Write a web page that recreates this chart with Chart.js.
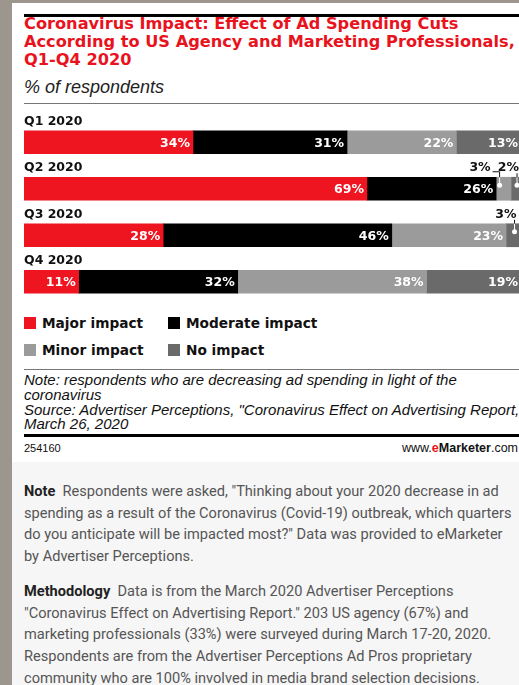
<!DOCTYPE html>
<html>
<head>
<meta charset="utf-8">
<script src="https://cdn.jsdelivr.net/npm/chart.js@4"></script>
<style>
  html, body { margin: 0; padding: 0; }
  body { width: 519px; height: 685px; overflow: hidden; position: relative; background: #fff; font-family: "Liberation Sans", Arial, sans-serif; }
  .abs { position: absolute; white-space: nowrap; }
  #strip-left { left: 0; top: 0; width: 12px; height: 685px; background: #9c968f; }
  #strip-top { left: 0; top: 0; width: 519px; height: 3px; background: #9c968f; }
  #lower { left: 12px; top: 462px; width: 507px; height: 223px; background: #f6f6f6; }
  .rule { position: absolute; left: 24px; width: 495px; }
  #title { left: 24px; top: 15px; font: 700 16.2px/18px "DejaVu Sans", sans-serif; color: #e8131d; }
  #subtitle { left: 24px; top: 77px; font: italic 18px/20px "Liberation Sans", sans-serif; color: #222; }
  #chartBox { left: 24px; top: 105px; width: 497px; height: 200px; }
  .legend-row { left: 24px; font: 700 13.7px/18px "DejaVu Sans", sans-serif; color: #111; }
  .legend-item { position: absolute; top: 0; }
  .legend-item i { position: absolute; left: 0; top: 3px; width: 12px; height: 12px; }
  .legend-item span { position: absolute; left: 18px; top: 0; }
  #note { left: 24px; top: 373px; font: italic 15px/14.8px "Liberation Sans", sans-serif; color: #111; }
  #code { left: 24px; top: 442px; font: 11px/13px "Liberation Sans", sans-serif; color: #111; }
  #site { right: 1px; top: 441px; font: 12.5px/14px "Liberation Sans", sans-serif; color: #111; }
  #site b { font-weight: 700; }
  .para { left: 24px; font: 14.6px/21.7px Roboto, sans-serif; color: #555; }
  .para b { color: #222; }
</style>
</head>
<body>
<div class="abs" id="strip-left"></div>
<div class="abs" id="strip-top"></div>
<div class="abs" id="lower"></div>

<div class="rule" style="top:14px;height:3px;background:#000"></div>
<div class="abs" id="title">Coronavirus Impact: Effect of Ad Spending Cuts<br>According to US Agency and Marketing Professionals,<br>Q1-Q4 2020</div>
<div class="abs" id="subtitle">% of respondents</div>
<div class="rule" style="top:103px;height:1px;background:#777"></div>

<div class="abs" id="chartBox"><canvas id="impactChart" width="497" height="200"></canvas></div>

<div class="abs legend-row" id="legendRow1" style="top:314px"></div>
<div class="abs legend-row" id="legendRow2" style="top:341px"></div>
<div class="rule" style="top:369px;height:1px;background:#777"></div>

<div class="abs" id="note">Note: respondents who are decreasing ad spending in light of the<br>coronavirus<br>Source: Advertiser Perceptions, "Coronavirus Effect on Advertising Report,"<br>March 26, 2020</div>
<div class="rule" style="top:434px;height:3px;background:#000"></div>
<div class="abs" id="code">254160</div>
<div class="abs" id="site">www.<b style="color:#e8131d">e</b><b>Marketer</b>.com</div>

<div class="abs para" style="top:481px"><b>Note</b>&nbsp; Respondents were asked, "Thinking about your 2020 decrease in ad<br>spending as a result of the Coronavirus (Covid-19) outbreak, which quarters<br>do you anticipate will be impacted most?" Data was provided to eMarketer<br>by Advertiser Perceptions.</div>
<div class="abs para" style="top:581px"><b>Methodology</b>&nbsp; Data is from the March 2020 Advertiser Perceptions<br>"Coronavirus Effect on Advertising Report." 203 US agency (67%) and<br>marketing professionals (33%) were surveyed during March 17-20, 2020.<br>Respondents are from the Advertiser Perceptions Ad Pros proprietary<br>community who are 100% involved in media brand selection decisions.</div>

<script>
// ================= DATA =================
const quarters = ["Q1 2020", "Q2 2020", "Q3 2020", "Q4 2020"];
const seriesNames = ["Major impact", "Moderate impact", "Minor impact", "No impact"];
const majorImpact = [34, 69, 28, 11];
const moderateImpact = [31, 26, 46, 32];
const minorImpact = [22, 3, 23, 38];
const noImpact = [13, 2, 3, 19];
const seriesColors = ["#ee1520", "#000000", "#9b9b9b", "#6a6a6a"];

const seriesValues = [majorImpact, moderateImpact, minorImpact, noImpact];

// ================= LEGEND =================
const legendSlots = [[0, 0], [0, 144], [1, 0], [1, 144]];
seriesNames.forEach((name, k) => {
  const [row, left] = legendSlots[k];
  const item = document.createElement("div");
  item.className = "legend-item";
  item.style.left = left + "px";
  item.innerHTML = `<i style="background:${seriesColors[k]}"></i><span>${name}</span>`;
  document.getElementById(row === 0 ? "legendRow1" : "legendRow2").appendChild(item);
});

// ================= LABELS =================
const boldFont = "700 12.5px 'DejaVu Sans'";
const valueFont = "700 12.5px 'DejaVu Sans'";

const labelPlugin = {
  id: "barLabels",
  afterDatasetsDraw(chart) {
    const ctx = chart.ctx;
    const left = chart.chartArea.left;
    ctx.save();

    // quarter names above each bar
    ctx.fillStyle = "#111";
    ctx.font = boldFont;
    ctx.textAlign = "left";
    ctx.textBaseline = "alphabetic";
    chart.getDatasetMeta(0).data.forEach((bar, i) => {
      ctx.fillText(quarters[i], left, bar.y - bar.height / 2 - 6);
    });

    // values
    quarters.forEach((q, i) => {
      const small = [];
      chart.data.datasets.forEach((ds, di) => {
        const bar = chart.getDatasetMeta(di).data[i];
        const v = ds.data[i];
        if (v >= 5) {
          ctx.fillStyle = "#fff";
          ctx.font = valueFont;
          ctx.textAlign = "right";
          ctx.textBaseline = "middle";
          ctx.fillText(v + "%", bar.x - 3, bar.y + 1);
        } else {
          small.push({ bar, v });
        }
      });

      small.forEach((s, n) => {
        const bar = s.bar;
        const top = bar.y - bar.height / 2;
        const cx = (bar.base + bar.x) / 2;
        const textY = top - 6;
        const last = n === small.length - 1;
        const lineX = last ? cx + 1 : cx - 4;
        const dotY = top + 8;

        ctx.font = valueFont;
        ctx.fillStyle = "#111";
        ctx.textAlign = "right";
        ctx.textBaseline = "alphabetic";
        ctx.lineWidth = 1;
        ctx.strokeStyle = "#111";
        ctx.beginPath();
        if (last) {
          ctx.fillText(s.v + "%", Math.min(cx + 3, 496), textY);
          ctx.moveTo(lineX, textY + 2);
        } else {
          ctx.fillText(s.v + "%", cx - 13, textY);
          ctx.moveTo(cx - 11, textY + 0.5);
          ctx.lineTo(lineX, textY + 0.5);
        }
        ctx.lineTo(lineX, top);
        ctx.stroke();

        ctx.strokeStyle = "#fff";
        ctx.beginPath();
        ctx.moveTo(lineX, top);
        ctx.lineTo(lineX, dotY);
        ctx.stroke();
        ctx.fillStyle = "#fff";
        ctx.beginPath();
        ctx.arc(lineX, dotY, 2.5, 0, Math.PI * 2);
        ctx.fill();
      });
    });
    ctx.restore();
  }
};

// ================= CHART =================
new Chart(document.getElementById("impactChart"), {
  type: "bar",
  data: {
    labels: quarters,
    datasets: seriesNames.map((name, k) => ({
      label: name,
      data: seriesValues[k],
      backgroundColor: seriesColors[k],
      borderWidth: 0,
      barThickness: 23
    }))
  },
  options: {
    indexAxis: "y",
    responsive: false,
    animation: false,
    devicePixelRatio: 1,
    layout: { padding: { top: 14, left: 0, right: 0, bottom: 0 } },
    scales: {
      x: { stacked: true, min: 0, max: 100, display: false },
      y: { stacked: true, display: false }
    },
    plugins: {
      legend: { display: false },
      tooltip: { enabled: false }
    }
  },
  plugins: [labelPlugin]
});
</script>
</body>
</html>
